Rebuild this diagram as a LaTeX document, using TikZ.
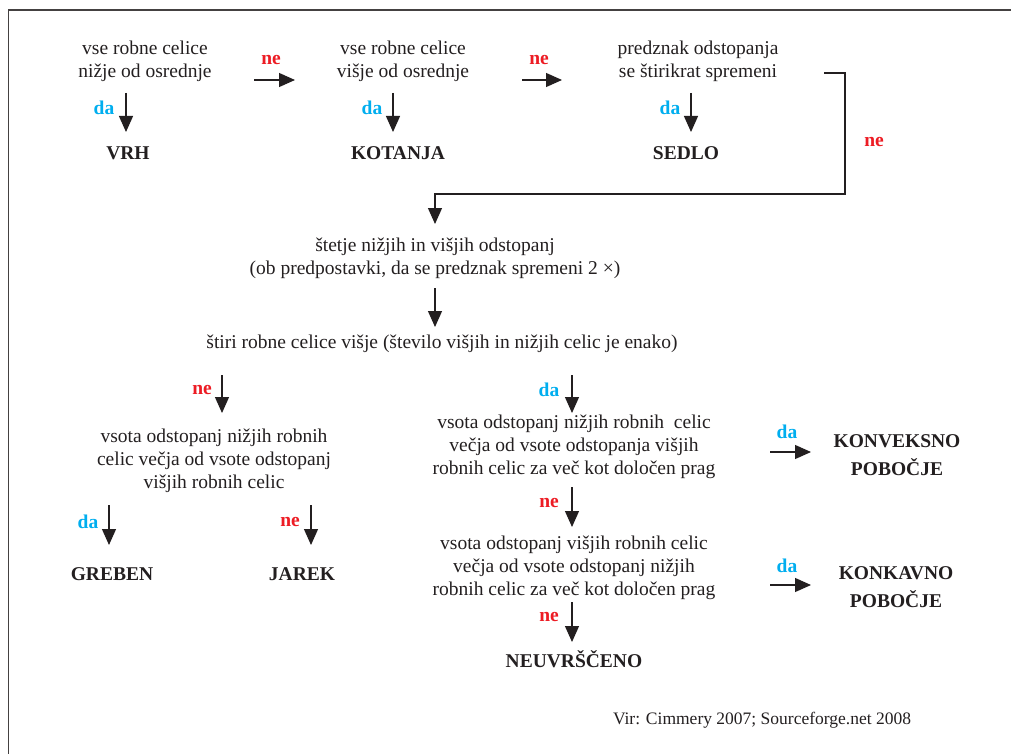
\documentclass[tikz,border=0pt]{standalone}
\usepackage{fontspec}
\setmainfont{Liberation Serif}
\usetikzlibrary{arrows.meta}
\definecolor{ink}{HTML}{231F20}
\definecolor{dacol}{HTML}{00AEEF}
\definecolor{necol}{HTML}{ED1C24}
\begin{document}
\begin{tikzpicture}[x=1pt,y=-1pt,
  txt/.style={align=center,inner sep=0pt,text=ink,font=\fontsize{19.5}{23}\selectfont},
  res/.style={align=center,inner sep=0pt,text=ink,font=\fontsize{19.5}{28}\selectfont\bfseries},
  yes/.style={inner sep=0pt,text=dacol,font=\fontsize{19.5}{23}\selectfont\bfseries},
  no/.style={inner sep=0pt,text=necol,font=\fontsize{19.5}{23}\selectfont\bfseries},
  src/.style={inner sep=0pt,text=ink,font=\fontsize{17.5}{21}\selectfont},
  arr/.style={draw=ink,line width=1.2pt,-{Triangle[length=16pt,width=14pt]}},
  frameline/.style={draw=ink!85,line width=1.6pt}]
\useasboundingbox (0,0) rectangle (1011,754);
\fill[white] (0,0) rectangle (1011,754);
\draw[frameline] (8.5,754) -- (8.5,10) -- (1011,10);

% top row
\node[txt] (A1) at (145,61) {vse robne celice\\nižje od osrednje};
\node[txt] (A2) at (403,61) {vse robne celice\\višje od osrednje};
\node[txt] (A3) at (698,61) {predznak odstopanja\\se štirikrat spremeni};
\node[res,anchor=base] (VRH) at (128,160) {VRH};
\node[res,anchor=base] (KOT) at (398,160) {KOTANJA};
\node[res,anchor=base] (SED) at (686,160) {SEDLO};

% middle
\node[txt] (B) at (435,258) {štetje nižjih in višjih odstopanj\\(ob predpostavki, da se predznak spremeni 2 ×)};
\node[txt,anchor=base] (C) at (442,348.5) {štiri robne celice višje (število višjih in nižjih celic je enako)};

% left branch
\node[txt] (D) at (214,460.5) {vsota odstopanj nižjih robnih\\celic večja od vsote odstopanj\\višjih robnih celic};
\node[res,anchor=base] (GRE) at (112,580) {GREBEN};
\node[res,anchor=base] (JAR) at (302,580) {JAREK};

% right branch
\node[txt] (E) at (574,446.5) {vsota odstopanj nižjih robnih\ \ celic\\večja od vsote odstopanja višjih\\robnih celic za več kot določen prag};
\node[txt] (F) at (574,567.5) {vsota odstopanj višjih robnih celic\\večja od vsote odstopanj nižjih\\robnih celic za več kot določen prag};
\node[res] (KONV) at (897,455) {KONVEKSNO\\POBOČJE};
\node[res] (KONK) at (896,587) {KONKAVNO\\POBOČJE};
\node[res,anchor=base] (NEU) at (574,667) {NEUVRŠČENO};

\node[src,anchor=base] (VIR) at (762,724) {Vir: Cimmery 2007; Sourceforge.net 2008};

% arrow end points
\coordinate (a1s) at (126,93);  \coordinate (a1e) at (126,132);
\coordinate (h1s) at (254,80);  \coordinate (h1e) at (295,80);
\coordinate (a2s) at (393,93);  \coordinate (a2e) at (393,132);
\coordinate (h2s) at (522,80);  \coordinate (h2e) at (562,80);
\coordinate (a3s) at (691,93);  \coordinate (a3e) at (691,132);
\coordinate (r1) at (824,73);   \coordinate (r2) at (845,73);
\coordinate (r3) at (845,194);  \coordinate (r4) at (435,194);
\coordinate (r5) at (435,224);
\coordinate (bs) at (435,288);  \coordinate (be) at (435,327);
\coordinate (cls) at (222,375); \coordinate (cle) at (222,413);
\coordinate (crs) at (572,375); \coordinate (cre) at (572,413);
\coordinate (dls) at (109,505); \coordinate (dle) at (109,545);
\coordinate (drs) at (311,505); \coordinate (dre) at (311,545);
\coordinate (ehs) at (770,452); \coordinate (ehe) at (811,452);
\coordinate (evs) at (572,487); \coordinate (eve) at (572,527);
\coordinate (fhs) at (770,585); \coordinate (fhe) at (811,585);
\coordinate (fvs) at (572,602); \coordinate (fve) at (572,642);

\draw[arr] (a1s) -- (a1e);
\draw[arr] (h1s) -- (h1e);
\draw[arr] (a2s) -- (a2e);
\draw[arr] (h2s) -- (h2e);
\draw[arr] (a3s) -- (a3e);
\draw[arr] (r1) -- (r2) -- (r3) -- (r4) -- (r5);
\draw[arr] (bs) -- (be);
\draw[arr] (cls) -- (cle);
\draw[arr] (crs) -- (cre);
\draw[arr] (dls) -- (dle);
\draw[arr] (drs) -- (dre);
\draw[arr] (ehs) -- (ehe);
\draw[arr] (evs) -- (eve);
\draw[arr] (fhs) -- (fhe);
\draw[arr] (fvs) -- (fve);

% labels
\node[yes] (l1) at (104,108) {da};
\node[no]  (l2) at (271,60) {ne};
\node[yes] (l3) at (372,108) {da};
\node[no]  (l4) at (539,60) {ne};
\node[yes] (l5) at (670,108) {da};
\node[no]  (l6) at (874,142) {ne};
\node[no]  (l7) at (202,390) {ne};
\node[yes] (l8) at (549,390) {da};
\node[yes] (l9) at (88,522) {da};
\node[no]  (l10) at (290,522) {ne};
\node[yes] (l11) at (787,432) {da};
\node[no]  (l12) at (549,503) {ne};
\node[yes] (l13) at (787,566) {da};
\node[no]  (l14) at (549,617) {ne};
\end{tikzpicture}
\end{document}
